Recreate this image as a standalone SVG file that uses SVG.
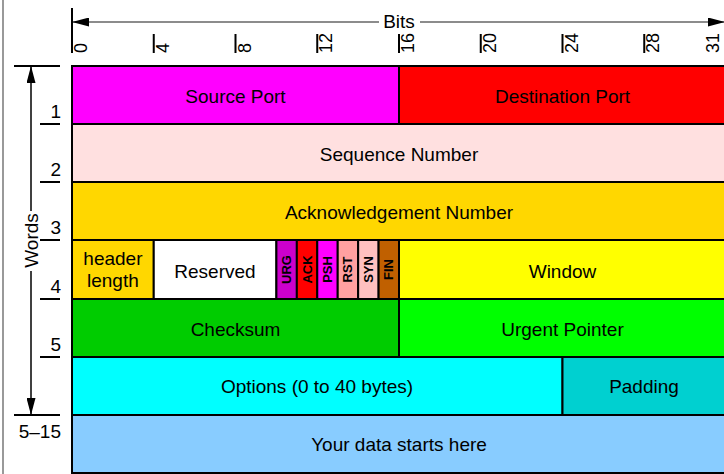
<svg xmlns="http://www.w3.org/2000/svg" width="724" height="474" viewBox="0 0 724 474">
<style>
  .f { stroke: #000; stroke-width: 2; }
  .t { font-family: "Liberation Sans", Arial, sans-serif; font-size: 19px; fill: #000; text-anchor: middle; }
  .flag { font-family: "Liberation Sans", Arial, sans-serif; font-size: 13px; font-weight: bold; fill: #000; text-anchor: middle; }
  .tick { font-family: "Liberation Sans", Arial, sans-serif; font-size: 18px; fill: #000; }
  .lab { font-family: "Liberation Sans", Arial, sans-serif; font-size: 19px; fill: #000; text-anchor: end; }
  .tk { stroke: #000; stroke-width: 2; }
  .ax { stroke: #000; stroke-width: 1.5; fill: none; }
</style>
<defs>
  <marker id="ah" markerUnits="userSpaceOnUse" markerWidth="17" markerHeight="9" refX="17" refY="4.5" orient="auto-start-reverse">
    <path d="M0,0 L17,4.5 L0,9 z" fill="#000"/>
  </marker>
</defs>
<rect x="0" y="0" width="724" height="474" fill="#fff"/>
<line x1="3" y1="0" x2="3" y2="474" stroke="#999" stroke-width="2"/>

<g id="source-port"><rect class="f" x="72" y="66" width="327" height="58" fill="#FF00FF"/><text class="t" x="235.5" y="103">Source Port</text></g>
<g id="destination-port"><rect class="f" x="399" y="66" width="327" height="58" fill="#FF0000"/><text class="t" x="562.5" y="103">Destination Port</text></g>
<g id="sequence-number"><rect class="f" x="72" y="124" width="654" height="58" fill="#FFE0E0"/><text class="t" x="399" y="161">Sequence Number</text></g>
<g id="ack-number"><rect class="f" x="72" y="182" width="654" height="58" fill="#FFD700"/><text class="t" x="399" y="219">Acknowledgement Number</text></g>
<g id="header-length"><rect class="f" x="72" y="240" width="81.75" height="59" fill="#FFD700"/><text class="t" x="112.9" y="265">header</text><text class="t" x="112.9" y="287">length</text></g>
<g id="reserved"><rect class="f" x="153.75" y="240" width="122.65" height="59" fill="#FFFFFF"/><text class="t" x="215" y="278">Reserved</text></g>
<g id="urg"><rect class="f" x="276.4" y="240" width="20.44" height="59" fill="#CC00CC"/><text class="flag" transform="translate(291.1,269.5) rotate(-90)">URG</text></g>
<g id="ack"><rect class="f" x="296.84" y="240" width="20.44" height="59" fill="#FF0000"/><text class="flag" transform="translate(311.6,269.5) rotate(-90)">ACK</text></g>
<g id="psh"><rect class="f" x="317.28" y="240" width="20.44" height="59" fill="#FF00FF"/><text class="flag" transform="translate(332,269.5) rotate(-90)">PSH</text></g>
<g id="rst"><rect class="f" x="337.72" y="240" width="20.44" height="59" fill="#FFA0A0"/><text class="flag" transform="translate(352.4,269.5) rotate(-90)">RST</text></g>
<g id="syn"><rect class="f" x="358.16" y="240" width="20.44" height="59" fill="#FFC0C0"/><text class="flag" transform="translate(372.9,269.5) rotate(-90)">SYN</text></g>
<g id="fin"><rect class="f" x="378.6" y="240" width="20.4" height="59" fill="#C06000"/><text class="flag" transform="translate(393.3,269.5) rotate(-90)">FIN</text></g>
<g id="window"><rect class="f" x="399" y="240" width="327" height="59" fill="#FFFF00"/><text class="t" x="562.5" y="278">Window</text></g>
<g id="checksum"><rect class="f" x="72" y="299" width="327" height="58" fill="#00CC00"/><text class="t" x="235.5" y="336">Checksum</text></g>
<g id="urgent-pointer"><rect class="f" x="399" y="299" width="327" height="58" fill="#00FF00"/><text class="t" x="562.5" y="336">Urgent Pointer</text></g>
<g id="options"><rect class="f" x="72" y="357" width="490.5" height="58" fill="#00FFFF"/><text class="t" x="317" y="393">Options (0 to 40 bytes)</text></g>
<g id="padding"><rect class="f" x="562.5" y="357" width="163.5" height="58" fill="#00D0D0"/><text class="t" x="644" y="393">Padding</text></g>
<g id="data"><rect class="f" x="72" y="415" width="654" height="58" fill="#88CCFF"/><text class="t" x="399" y="451">Your data starts here</text></g>

<g id="connectors">
  <line x1="72" y1="22" x2="725" y2="22" stroke="#666" stroke-width="1.5" marker-start="url(#ah)" marker-end="url(#ah)"/>
  <line class="ax" x1="31" y1="66" x2="31" y2="415" marker-start="url(#ah)" marker-end="url(#ah)"/>
</g>

<g id="bits-axis">
  <rect x="379" y="12" width="41" height="20" fill="#fff"/>
  <text class="t" x="399" y="28">Bits</text>
  <line class="tk" x1="72" y1="8" x2="72" y2="53"/>
  <line class="tk" x1="153.75" y1="34" x2="153.75" y2="53"/>
  <line class="tk" x1="235.5" y1="34" x2="235.5" y2="53"/>
  <line class="tk" x1="317.25" y1="34" x2="317.25" y2="53"/>
  <line class="tk" x1="399" y1="34" x2="399" y2="53"/>
  <line class="tk" x1="480.75" y1="34" x2="480.75" y2="53"/>
  <line class="tk" x1="562.5" y1="34" x2="562.5" y2="53"/>
  <line class="tk" x1="644.25" y1="34" x2="644.25" y2="53"/>
  <text class="tick" transform="translate(87,53) rotate(-90)">0</text>
  <text class="tick" transform="translate(168.75,53) rotate(-90)">4</text>
  <text class="tick" transform="translate(250.5,53) rotate(-90)">8</text>
  <text class="tick" transform="translate(332.25,53) rotate(-90)">12</text>
  <text class="tick" transform="translate(414,53) rotate(-90)">16</text>
  <text class="tick" transform="translate(495.75,53) rotate(-90)">20</text>
  <text class="tick" transform="translate(577.5,53) rotate(-90)">24</text>
  <text class="tick" transform="translate(659.25,53) rotate(-90)">28</text>
  <text class="tick" transform="translate(719,53) rotate(-90)">31</text>
</g>

<g id="words-axis">
  <rect x="21" y="211" width="18" height="60" fill="#fff"/>
  <text class="t" transform="translate(37.5,240.5) rotate(-90)">Words</text>
  <line class="tk" x1="14" y1="66" x2="60" y2="66"/>
  <line class="tk" x1="14" y1="415" x2="60" y2="415"/>
  <line class="tk" x1="40" y1="124" x2="60" y2="124"/>
  <line class="tk" x1="40" y1="182" x2="60" y2="182"/>
  <line class="tk" x1="40" y1="240" x2="60" y2="240"/>
  <line class="tk" x1="40" y1="299" x2="60" y2="299"/>
  <line class="tk" x1="40" y1="357" x2="60" y2="357"/>
  <text class="lab" x="61" y="118">1</text>
  <text class="lab" x="61" y="176">2</text>
  <text class="lab" x="61" y="234">3</text>
  <text class="lab" x="61" y="293">4</text>
  <text class="lab" x="61" y="351">5</text>
  <text class="lab" x="61" y="438">5–15</text>
</g>
</svg>
